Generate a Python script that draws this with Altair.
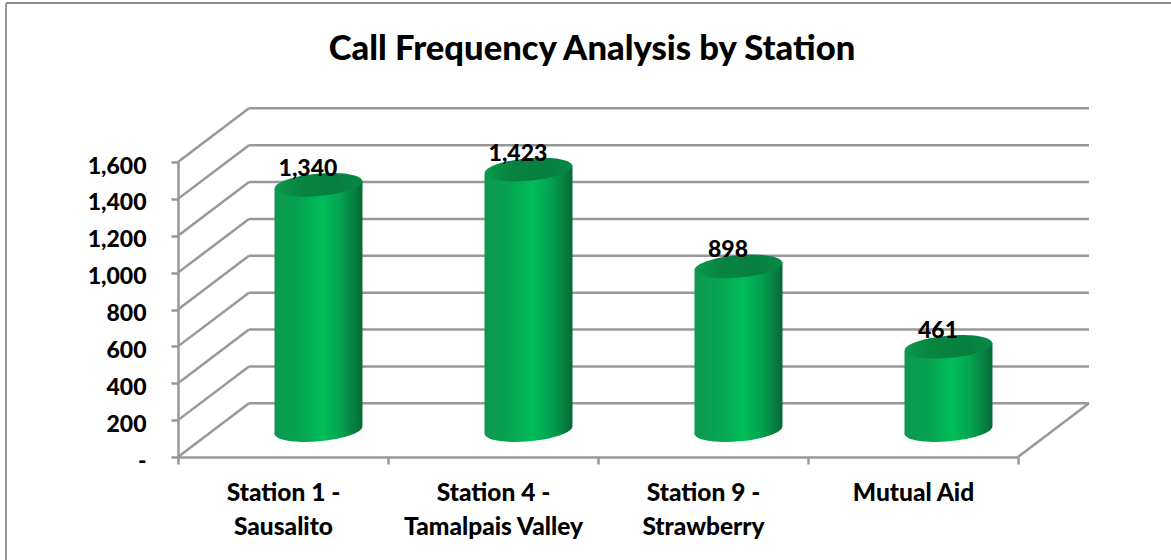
import altair as alt
import pandas as pd

# Chart values
stations = ["Station 1 -|Sausalito", "Station 4 -|Tamalpais Valley", "Station 9 -|Strawberry", "Mutual Aid"]
calls = [1340, 1423, 898, 461]
ticks = [0, 200, 400, 600, 800, 1000, 1200, 1400, 1600]

# Depth of the pseudo-3D box, in category widths and in axis units
DEPTH_X = 0.338
DEPTH_Y = 291
TOP_SHIFT = 136
BASE_SHIFT = 146
HALF_W = 0.2095
TILT = 22

FONT = "Lato"
WEIGHT = 900
GRID = "#989898"

x_q = alt.Scale(type="linear", domain=[0, 4], range=[0, 840])
y_q = alt.Scale(type="linear", domain=[0, 1600], range=[295, 0], nice=False, zero=False)

# The value axis is declared once and shared by every layer
y_axis = alt.Axis(
    values=ticks,
    labelExpr="datum.value === 0 ? '-' : format(datum.value, ',')",
    labelFont=FONT,
    labelFontWeight=WEIGHT,
    labelFontSize=23,
    labelColor="black",
    labelPadding=25,
    labelOffset=4,
    labelOverlap=False,
    labelBound=False,
    labelSeparation=0,
    domainColor=GRID,
    domainWidth=2.5,
    tickColor=GRID,
    tickWidth=2.5,
    tickSize=7,
    grid=False,
)


def xq(field="x"):
    return alt.X(f"{field}:Q", scale=x_q, axis=None)


def yq(field="y"):
    return alt.Y(f"{field}:Q", scale=y_q, title=None, axis=y_axis)


# Back wall lines, the floor's far edge included
back_rows = []
for t in ticks:
    back_rows.append({"id": f"b{t}", "x": DEPTH_X, "y": t + DEPTH_Y})
    back_rows.append({"id": f"b{t}", "x": 4 + DEPTH_X, "y": t + DEPTH_Y})
# Side wall lines running from the axis to the back wall
for t in ticks:
    back_rows.append({"id": f"s{t}", "x": 0, "y": t})
    back_rows.append({"id": f"s{t}", "x": DEPTH_X, "y": t + DEPTH_Y})
# Right edge of the floor
back_rows.append({"id": "f", "x": 4, "y": 0})
back_rows.append({"id": "f", "x": 4 + DEPTH_X, "y": DEPTH_Y})

walls = alt.Chart(pd.DataFrame(back_rows)).mark_line(color=GRID, strokeWidth=2.5, clip=False).encode(
    x=xq(), y=yq(), detail="id:N", order="x:Q"
)

# Cylinder bodies and caps
body_rows, cap_rows = [], []
for i, (s, v) in enumerate(zip(stations, calls)):
    cx = i + 0.5 + DEPTH_X / 2
    body_rows.append({"id": f"c{i}", "x": cx - HALF_W, "y": v + TOP_SHIFT - TILT, "base": BASE_SHIFT - TILT})
    body_rows.append({"id": f"c{i}", "x": cx + HALF_W, "y": v + TOP_SHIFT + TILT, "base": BASE_SHIFT + TILT})
    cap_rows.append({"id": f"c{i}", "x": cx, "top": v + TOP_SHIFT, "base": BASE_SHIFT})
bodies_df = pd.DataFrame(body_rows)
caps_df = pd.DataFrame(cap_rows)

side_fill = alt.Gradient(
    gradient="linear", x1=0, x2=1, y1=0, y2=0,
    stops=[
        alt.GradientStop(color="#0c9850", offset=0),
        alt.GradientStop(color="#07a252", offset=0.25),
        alt.GradientStop(color="#00bd59", offset=0.55),
        alt.GradientStop(color="#04a250", offset=0.75),
        alt.GradientStop(color="#067a3e", offset=0.93),
        alt.GradientStop(color="#056a36", offset=1),
    ],
)
cap_fill = alt.Gradient(
    gradient="linear", x1=0, x2=1, y1=0, y2=0,
    stops=[
        alt.GradientStop(color="#0b9a4c", offset=0),
        alt.GradientStop(color="#078440", offset=0.3),
        alt.GradientStop(color="#067f3f", offset=0.7),
        alt.GradientStop(color="#068a45", offset=1),
    ],
)

ELLIPSE = "M-1,0 A1,0.255 0 1,1 1,0 A1,0.255 0 1,1 -1,0 Z"
CAP_SIZE = 7744
CAP_ANGLE = 355

bottoms = alt.Chart(caps_df).mark_point(
    shape=ELLIPSE, size=CAP_SIZE, angle=CAP_ANGLE, filled=True, fill=side_fill, opacity=1, strokeWidth=0
).encode(x=xq(), y=yq("base"))

bodies = alt.Chart(bodies_df).mark_area(color=side_fill, opacity=1, clip=False).encode(
    x=xq(), y=yq(), y2=alt.Y2("base"), detail="id:N"
)

tops = alt.Chart(caps_df).mark_point(
    shape=ELLIPSE, size=CAP_SIZE, angle=CAP_ANGLE, filled=True, fill=cap_fill, opacity=1, strokeWidth=0
).encode(x=xq(), y=yq("top"))

# Value labels carry the category axis
labels_df = pd.DataFrame({"station": stations, "calls": calls, "label_y": [v + TOP_SHIFT for v in calls]})
labels = alt.Chart(labels_df).mark_text(
    font=FONT, fontWeight=WEIGHT, fontSize=23, color="black", dx=25, dy=-16
).encode(
    x=alt.X(
        "station:N",
        sort=stations,
        scale=alt.Scale(type="band", domain=stations, paddingInner=0, paddingOuter=0),
        title=None,
        axis=alt.Axis(
            tickBand="extent",
            labelAngle=0,
            labelExpr="split(datum.label, '|')",
            labelFont=FONT,
            labelFontWeight=WEIGHT,
            labelFontSize=24.5,
            labelColor="black",
            labelLineHeight=34,
            labelPadding=17,
            labelLimit=400,
            domainColor=GRID,
            domainWidth=2.5,
            tickColor=GRID,
            tickWidth=2.5,
            tickSize=7,
            grid=False,
        ),
    ),
    y=yq("label_y"),
    text=alt.Text("calls:Q", format=","),
)

# Outer chart frame, open on the right and at the bottom
frame_top = alt.Chart(pd.DataFrame({"k": [0]})).mark_rule(color="#8c8c8c", strokeWidth=2).encode(
    x=alt.value(-172), x2=alt.value(993), y=alt.value(-159)
)
frame_left = alt.Chart(pd.DataFrame({"k": [0]})).mark_rule(color="#9a9a9a", strokeWidth=2).encode(
    x=alt.value(-172), y=alt.value(-159), y2=alt.value(398)
)

chart = (
    alt.layer(walls, frame_top, frame_left, bottoms, bodies, tops, labels)
    .resolve_scale(x="independent")
    .properties(
        width=840,
        height=295,
        padding={"left": 178, "top": 162, "right": 153, "bottom": 103},
        autosize=alt.AutoSizeParams(type="none"),
        background="white",
        title=alt.TitleParams(
            "Call Frequency Analysis by Station",
            font=FONT,
            fontWeight=WEIGHT,
            fontSize=34.6,
            color="black",
            anchor="middle",
            dx=-6,
            dy=66,
            offset=0,
        ),
    )
    .configure_view(stroke=None)
)

chart.save("out.html", embed_options={"renderer": "svg", "actions": False})
